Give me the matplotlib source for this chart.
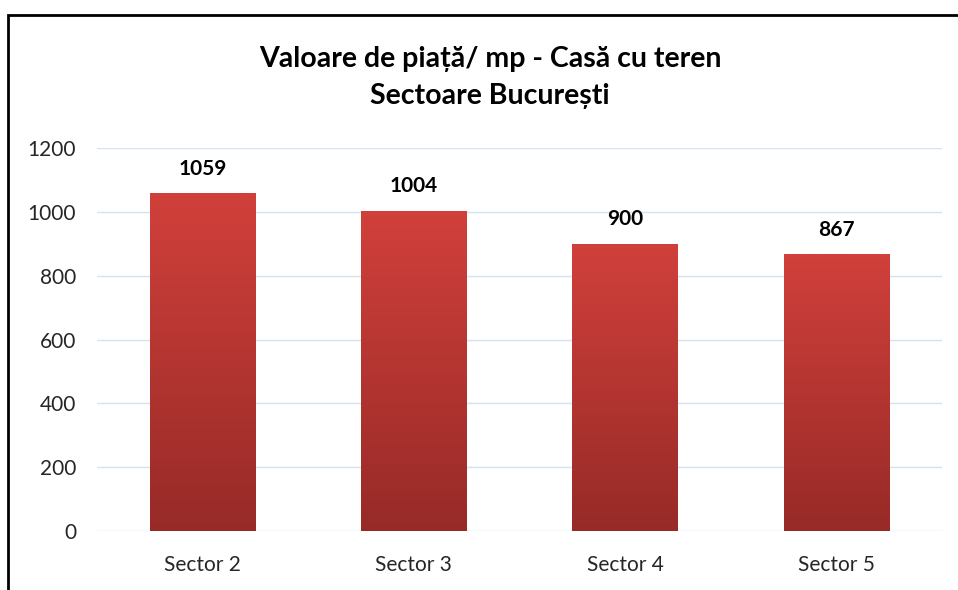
import matplotlib
matplotlib.use("Agg")
import matplotlib.pyplot as plt
import numpy as np
from matplotlib.patches import Rectangle
from matplotlib.colors import LinearSegmentedColormap

categories = ["Sector 2", "Sector 3", "Sector 4", "Sector 5"]
values = [1059, 1004, 900, 867]
yticks = [0, 200, 400, 600, 800, 1000, 1200]
title = "Valoare de piață/ mp - Casă cu teren\nSectoare București"

plt.rcParams['font.family'] = ['Lato', 'DejaVu Sans']

fig = plt.figure(figsize=(9.58, 5.9), dpi=100)
ax = fig.add_axes([97/958, 59/590, (942-97)/958, (531-148)/590])

x = np.arange(len(categories))
bars = ax.bar(x, values, width=0.5, color='#B83532', zorder=2,
              edgecolor='none')
cmap = LinearSegmentedColormap.from_list('g', ['#972A27', '#D1403B'])
grad = np.linspace(0, 1, 256).reshape(-1, 1)
for b, v in zip(bars, values):
    x0, w, h = b.get_x(), b.get_width(), b.get_height()
    im = ax.imshow(grad, cmap=cmap, aspect='auto', origin='lower',
                   extent=[x0, x0 + w, 0, h], zorder=3)
    im.set_clip_path(b)
    ax.text(x0 + w/2, h + 76, f"{v}",
            ha='center', va='center', fontsize=15, fontweight='bold',
            color='#000000')

ax.set_xlim(-0.5, len(categories) - 0.5)
ax.set_ylim(0, 1200)
ax.set_yticks(yticks)
ax.set_xticks(x)
ax.set_xticklabels(categories)
ax.yaxis.grid(True, color='#D5E2F2', linewidth=1, zorder=0)
ax.set_axisbelow(True)
for s in ax.spines.values():
    s.set_visible(False)
ax.tick_params(axis='both', length=0, labelsize=15, colors='#262626')
ax.tick_params(axis='x', pad=17)
ax.tick_params(axis='y', pad=15)

fig.text(490/958, 1 - 77.5/590, title, ha='center', va='center',
         fontsize=20.5, fontweight='bold', color='#000000', linespacing=1.5)

fig.add_artist(Rectangle((8/958, -0.1), 1.1, 1 - 15/590 + 0.1,
                         transform=fig.transFigure, fill=False,
                         edgecolor='black', linewidth=2))

fig.savefig("out.png", dpi=100)
